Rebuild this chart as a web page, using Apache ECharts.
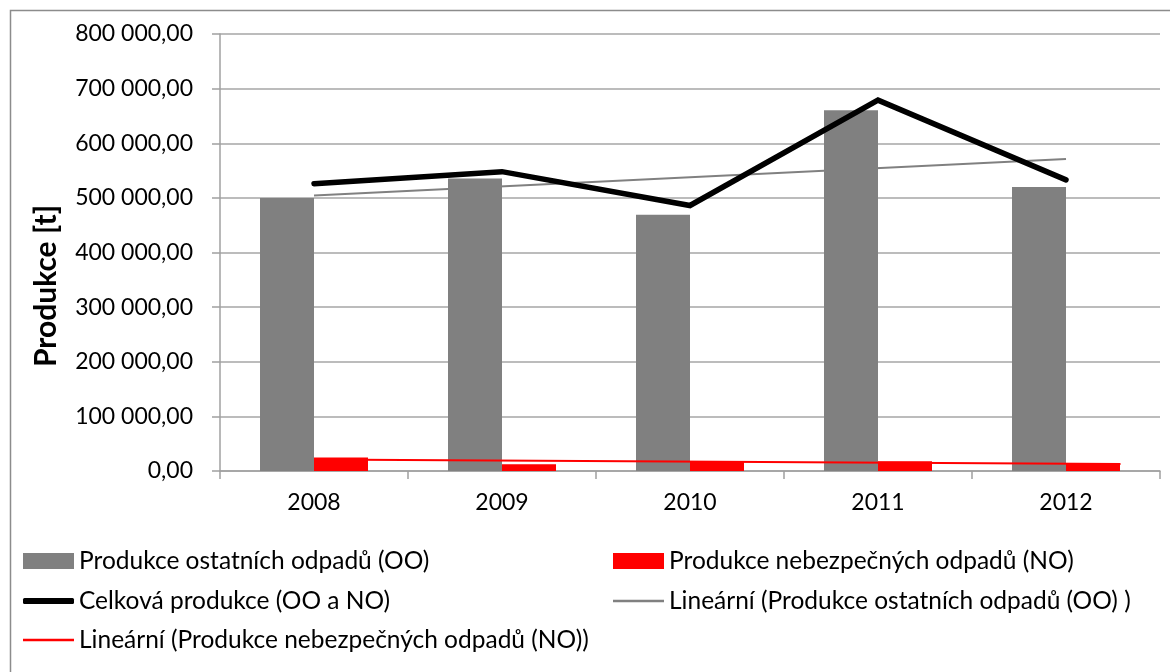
<!DOCTYPE html>
<html>
<head>
<meta charset="utf-8">
<script src="https://cdn.jsdelivr.net/npm/echarts@6/dist/echarts.min.js"></script>
<style>
html,body{margin:0;padding:0;background:#fff;}
#c{width:1170px;height:672px;}
</style>
</head>
<body>
<div id="c"></div>
<script>
const categories = ['2008', '2009', '2010', '2011', '2012'];
const ooValues = [500000, 535500, 469000, 660500, 520000];
const noValues = [24500, 12500, 17000, 17800, 13000];
const totalValues = [526000, 548000, 486000, 679000, 533000];
// trend lines: [category position (1 = 2008), value]
const ooTrend = [[1, 504500], [5, 571000]];
const noTrend = [[1, 21000], [5.29, 12900]];
const yTicks = { min: 0, max: 800000, interval: 100000 };

const names = {
  oo: 'Produkce ostatních odpadů (OO)',
  no: 'Produkce nebezpečných odpadů (NO)',
  total: 'Celková produkce (OO a NO)',
  ooT: 'Lineární (Produkce ostatních odpadů (OO) )',
  noT: 'Lineární (Produkce nebezpečných odpadů (NO))'
};

function fmt(v) {
  return Math.round(v).toString().replace(/\B(?=(\d{3})+(?!\d))/g, ' ') + ',00';
}

const FONT = 'Lato';
const chart = echarts.init(document.getElementById('c'));
const legendText = { fontFamily: FONT, fontSize: 24.5, color: '#000', lineHeight: 26 };
function lg(name, left, top, icon, h) {
  return {
    data: [{ name: name, icon: icon }], left: left, top: top, padding: 0,
    itemWidth: 51, itemHeight: h, textStyle: legendText, selectedMode: false
  };
}
chart.setOption({
  animation: false,
  backgroundColor: '#fff',
  textStyle: { fontFamily: FONT },
  grid: { left: 220, right: 10, top: 34, bottom: 201, containLabel: false },
  legend: [
    lg(names.oo, 23, 548, 'rect', 16),
    lg(names.no, 613, 548, 'rect', 16),
    lg(names.total, 23, 588, 'roundRect', 6),
    lg(names.ooT, 613, 588, 'rect', 2.5),
    lg(names.noT, 23, 627, 'rect', 2.5)
  ],
  xAxis: [{
    type: 'category',
    data: categories,
    boundaryGap: true,
    axisLine: { lineStyle: { color: '#a0a0a0', width: 1.5 } },
    axisTick: { show: true, length: 8, interval: 0, lineStyle: { color: '#a0a0a0', width: 1.5 } },
    axisLabel: { fontFamily: FONT, fontSize: 23, color: '#000', margin: 20 },
    splitLine: { show: false }
  }, {
    type: 'value', min: 0.5, max: 5.5, show: false
  }],
  yAxis: {
    type: 'value',
    min: yTicks.min, max: yTicks.max, interval: yTicks.interval,
    axisLine: { show: true, lineStyle: { color: '#a0a0a0', width: 1.5 } },
    axisTick: { show: true, length: 8, lineStyle: { color: '#a0a0a0', width: 1.5 } },
    axisLabel: { fontFamily: FONT, fontSize: 23, color: '#000', margin: 27, formatter: fmt },
    splitLine: { show: true, lineStyle: { color: '#a6a6a6', width: 1.5 } }
  },
  graphic: [
    {
      type: 'rect', silent: true,
      shape: { x: 10.5, y: 10.5, width: 1200, height: 700 },
      style: { fill: 'none', stroke: '#8c8c8c', lineWidth: 1.5 }
    },
    {
      type: 'text', x: 46, y: 286, rotation: Math.PI / 2,
      style: {
        text: 'Produkce [t]', fontFamily: FONT, fontSize: 30, fontWeight: 'bold',
        fill: '#000', align: 'center', verticalAlign: 'middle'
      }
    }
  ],
  series: [
    {
      name: names.oo, type: 'bar', data: ooValues, barWidth: 54, barGap: '0%',
      itemStyle: { color: '#808080' }, z: 2
    },
    {
      name: names.no, type: 'bar', data: noValues, barWidth: 54, barGap: '0%',
      itemStyle: { color: '#ff0000' }, z: 2
    },
    {
      name: names.total, type: 'line', data: totalValues, symbol: 'none',
      lineStyle: { color: '#000', width: 5.5, cap: 'round', join: 'miter' }, itemStyle: { color: '#000' }, z: 5
    },
    {
      name: names.ooT, type: 'line', xAxisIndex: 1, data: ooTrend, symbol: 'none',
      lineStyle: { color: '#808080', width: 2 }, itemStyle: { color: '#808080' }, z: 4
    },
    {
      name: names.noT, type: 'line', xAxisIndex: 1, data: noTrend, symbol: 'none',
      lineStyle: { color: '#ff0000', width: 2 }, itemStyle: { color: '#ff0000' }, z: 4
    }
  ]
});
</script>
</body>
</html>
